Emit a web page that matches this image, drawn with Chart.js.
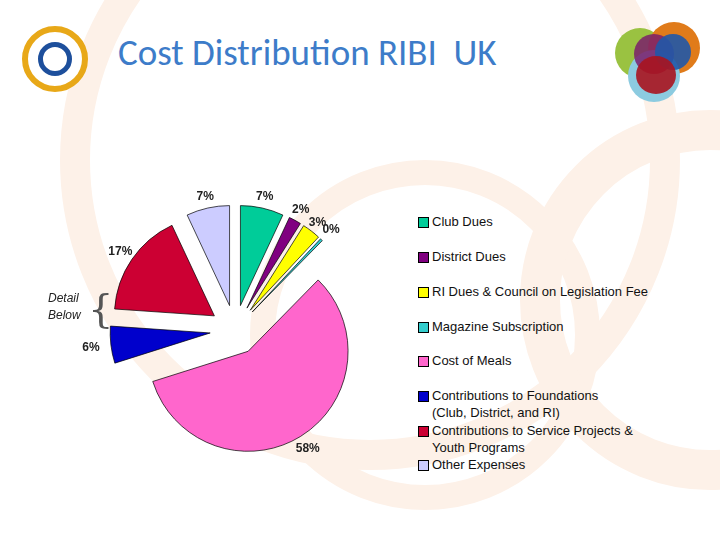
<!DOCTYPE html>
<html><head><meta charset="utf-8">
<script src="https://cdn.jsdelivr.net/npm/chart.js@4"></script>
<style>
body{margin:0;width:720px;height:540px;position:relative;overflow:hidden;background:#fff;font-family:Arial,"Liberation Sans",sans-serif}
.sw{position:absolute;border-radius:50%;border-style:solid;border-color:#fdf1e8}
#title{position:absolute;left:118px;top:30px;font-size:37px;color:#3d7cc9;font-family:Calibri,"Carlito","Open Sans",sans-serif}
#wrap{position:absolute;left:60px;top:150px;width:350px;height:360px}
#legend{position:absolute;left:418px;top:213px;font-size:13px;color:#111}
.li{position:absolute;white-space:nowrap;line-height:17px}
.sq{position:absolute;left:0;top:4px;width:9px;height:9px;border:1px solid #000}
.tx{position:absolute;left:14px;top:0}
#detail{position:absolute;left:48px;top:290px;font-size:12px;font-style:italic;line-height:17px;color:#222}
</style></head><body>
<div class="sw" style="left:60px;top:-150px;width:560px;height:560px;border-width:30px"></div>
<div class="sw" style="left:250px;top:160px;width:300px;height:300px;border-width:25px"></div>
<div class="sw" style="left:520px;top:110px;width:300px;height:300px;border-width:40px"></div>
<div style="position:absolute;left:22px;top:26px;width:66px;height:66px;border-radius:50%;border:6px solid #e8a818;box-sizing:border-box;background:#fff"></div>
<div style="position:absolute;left:38px;top:42px;width:34px;height:34px;border-radius:50%;border:5px solid #1d4f9c;box-sizing:border-box"></div>
<div style="position:absolute;left:615px;top:28px;width:50px;height:50px;border-radius:50%;background:#9ac241"></div>
<div style="position:absolute;left:648px;top:22px;width:52px;height:52px;border-radius:50%;background:#e07b1a"></div>
<div style="position:absolute;left:628px;top:50px;width:52px;height:52px;border-radius:50%;background:#8ccbe0"></div>
<div style="position:absolute;left:634px;top:34px;width:40px;height:40px;border-radius:50%;background:#7a1f6b;opacity:.85"></div>
<div style="position:absolute;left:655px;top:34px;width:36px;height:36px;border-radius:50%;background:#2058a8;opacity:.9"></div>
<div style="position:absolute;left:636px;top:56px;width:40px;height:38px;border-radius:50%;background:#a8141f;opacity:.9"></div>
<div id="title">Cost Distribution RIBI&nbsp; UK</div>
<div id="wrap"><canvas id="c"></canvas></div>
<div id="detail">Detail<br>Below</div>
<div style="position:absolute;left:88px;top:288px;font-size:40px;color:#555;font-family:'DejaVu Serif';line-height:40px">{</div>
<div id="legend"></div>
<script>
const categories=["Club Dues","District Dues","RI Dues & Council on Legislation Fee","Magazine Subscription","Cost of Meals","Contributions to Foundations (Club, District, and RI)","Contributions to Service Projects & Youth Programs","Other Expenses"];
const legendLines=[["Club Dues"],["District Dues"],["RI Dues & Council on Legislation Fee"],["Magazine Subscription"],["Cost of Meals"],["Contributions to Foundations","(Club, District, and RI)"],["Contributions to Service Projects &","Youth Programs"],["Other Expenses"]];
const values=[7,2,3,0.4,58,6,17,7];
const percentLabels=["7%","2%","3%","0%","58%","6%","17%","7%"];
const colors=["#00cc99","#800080","#ffff00","#33cccc","#ff66cc","#0000cc","#cc0033","#ccccff"];
const legendTops=[0,35,70,105,139,174,209,243];
const EXPLODE=25;

const lg=document.getElementById('legend');
legendLines.forEach((l,i)=>{
  const d=document.createElement('div');d.className='li';d.style.top=legendTops[i]+'px';
  d.innerHTML='<div class="sq" style="background:'+colors[i]+'"></div><div class="tx">'+l.map(s=>s.replace(/&/g,'&amp;')).join('<br>')+'</div>';
  lg.appendChild(d);
});

const explodePlugin={id:'ex',beforeDatasetDraw(chart,args){
  const ctx=chart.ctx;
  chart.getDatasetMeta(args.index).data.forEach(a=>{
    const p=a.getProps(['startAngle','endAngle'],true);const m=(p.startAngle+p.endAngle)/2;
    ctx.save();ctx.translate(Math.cos(m)*EXPLODE,Math.sin(m)*EXPLODE);a.draw(ctx);ctx.restore();
  });
  return false;
}};
const labelPlugin={id:'pl',afterDatasetsDraw(chart){
  const ctx=chart.ctx;const meta=chart.getDatasetMeta(0);
  ctx.save();ctx.font='bold 12px Arial, "Liberation Sans"';ctx.fillStyle='#222';ctx.textAlign='center';ctx.textBaseline='middle';
  const extra=[12,12,10,14,14,20,14,12];
  meta.data.forEach((a,i)=>{
    const p=a.getProps(['x','y','startAngle','endAngle','outerRadius'],true);
    const m=(p.startAngle+p.endAngle)/2;const r=p.outerRadius+EXPLODE+extra[i];
    ctx.fillText(percentLabels[i],p.x+Math.cos(m)*r,p.y+Math.sin(m)*r);
  });
  ctx.restore();
}};
new Chart(document.getElementById('c'),{type:'pie',
  data:{labels:categories,datasets:[{data:values,backgroundColor:colors,borderColor:'#000',borderWidth:0.7}]},
  options:{responsive:true,maintainAspectRatio:false,animation:false,radius:100,layout:{padding:0},
    plugins:{legend:{display:false},tooltip:{enabled:false}}},
  plugins:[explodePlugin,labelPlugin]});
</script></body></html>
